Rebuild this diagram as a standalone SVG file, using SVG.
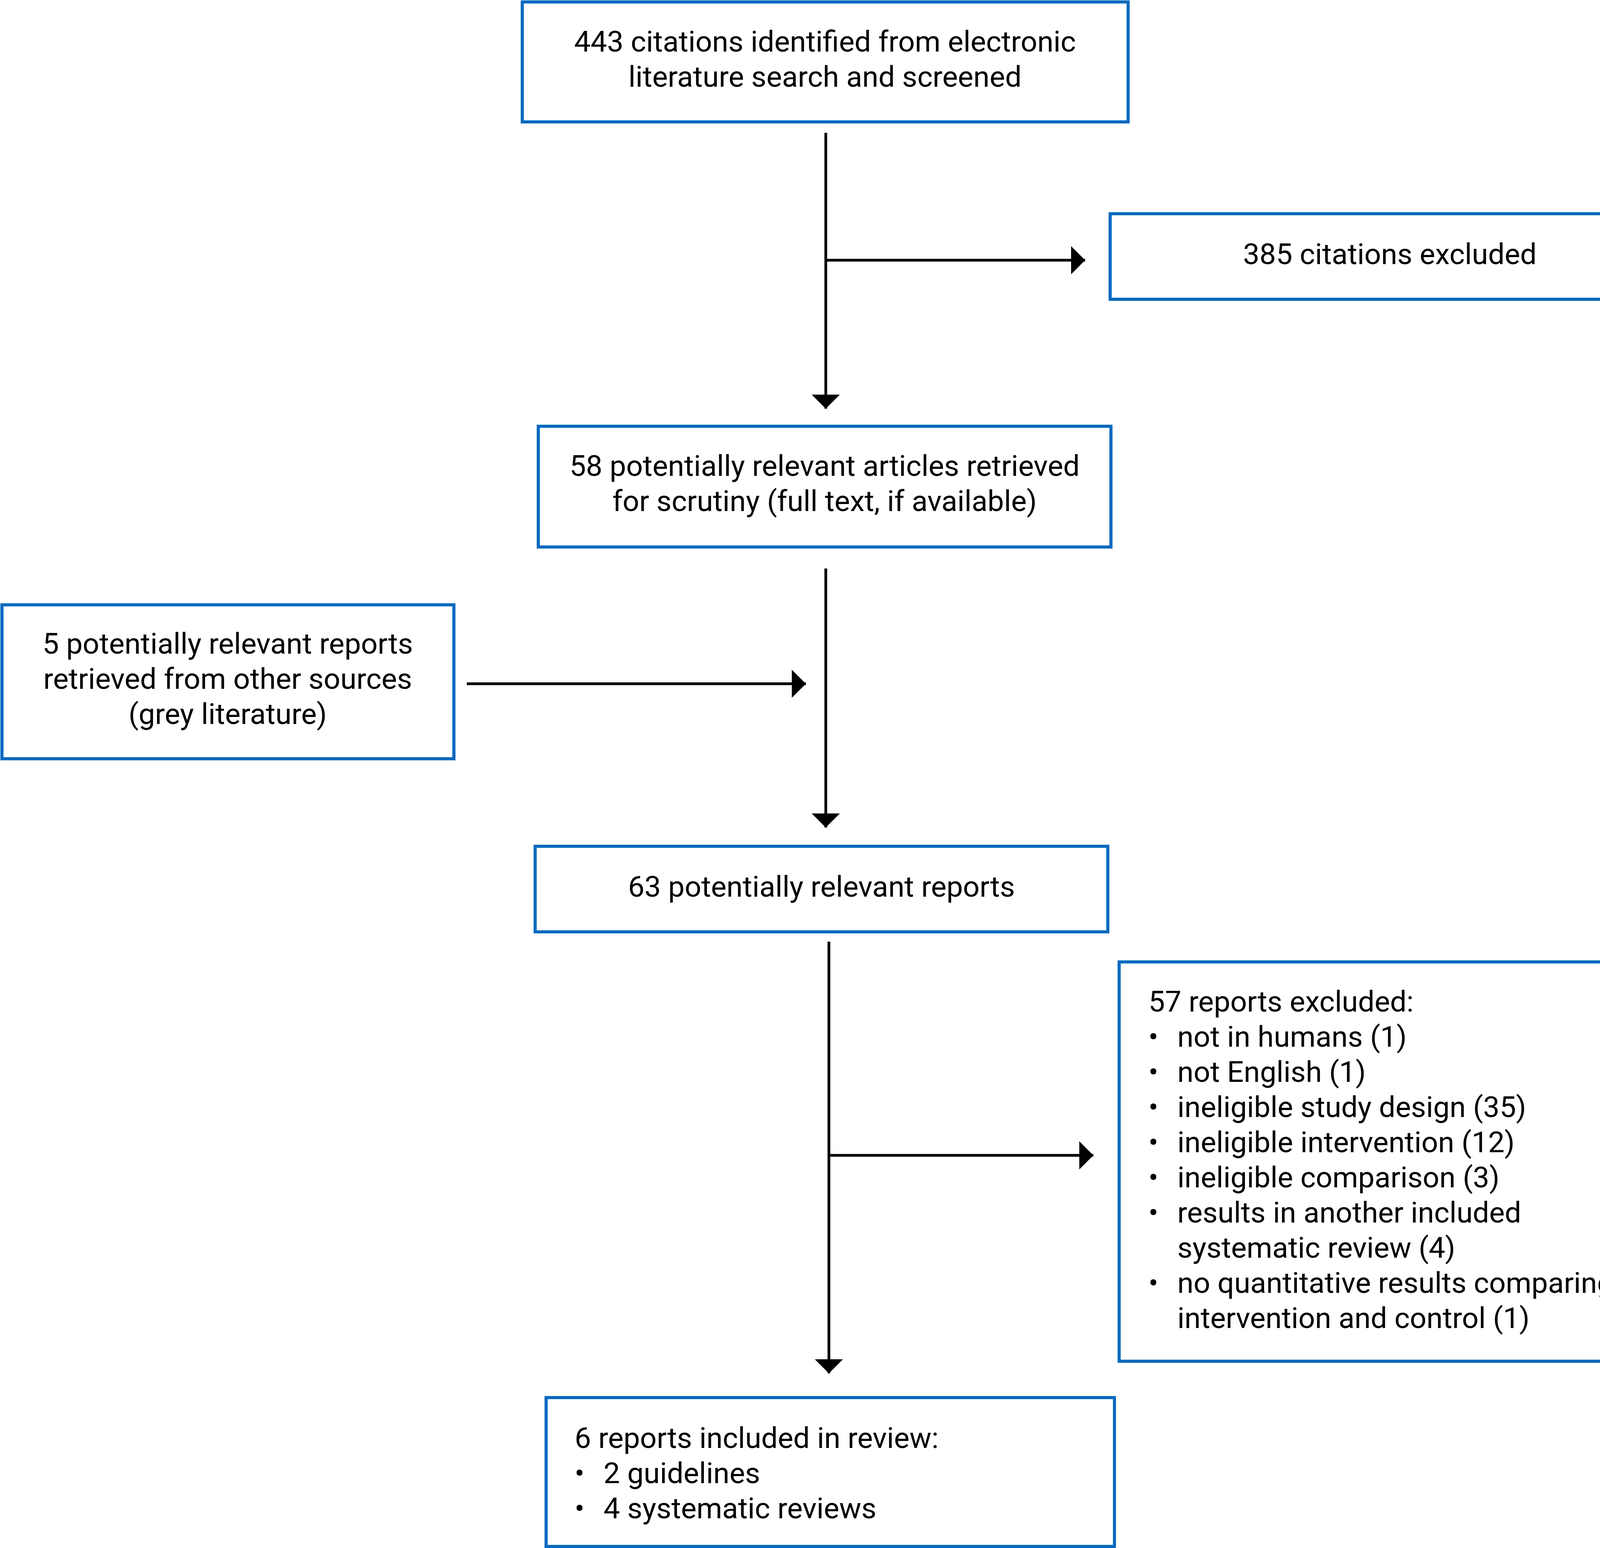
<svg xmlns="http://www.w3.org/2000/svg" width="4289" height="3962" viewBox="0 0 4289 3962">
<style>
.box{fill:#fff;stroke:#0a6abf;stroke-width:8}
text{font-family:Roboto,"Liberation Sans",sans-serif;font-size:75px;fill:#000}
.c{text-anchor:middle}
.ln{stroke:#000;stroke-width:7;fill:none}
</style>
<defs>
<marker id="ah" markerUnits="userSpaceOnUse" markerWidth="40" markerHeight="76" refX="36" refY="38" orient="auto">
<path d="M0,2 L36,38 L0,74 z" fill="#000"/>
</marker>
</defs>
<rect width="4289" height="3962" fill="#fff"/>
<g id="connectors">
<line class="ln" x1="2114" y1="340" x2="2114" y2="1046" marker-end="url(#ah)"/>
<line class="ln" x1="2114" y1="666" x2="2778" y2="666" marker-end="url(#ah)"/>
<line class="ln" x1="2114" y1="1455" x2="2114" y2="2118" marker-end="url(#ah)"/>
<line class="ln" x1="1195" y1="1750" x2="2063" y2="1750" marker-end="url(#ah)"/>
<line class="ln" x1="2122" y1="2410" x2="2122" y2="3515" marker-end="url(#ah)"/>
<line class="ln" x1="2122" y1="2957" x2="2799" y2="2957" marker-end="url(#ah)"/>
</g>
<g id="n1"><rect class="box" x="1337" y="5" width="1551" height="307"/>
<text class="c" x="2112" y="132">443 citations identified from electronic</text>
<text class="c" x="2112" y="222">literature search and screened</text></g>
<g id="n2"><rect class="box" x="2842" y="547" width="1433" height="219"/>
<text class="c" x="3558" y="676">385 citations excluded</text></g>
<g id="n3"><rect class="box" x="1378" y="1091" width="1466" height="309"/>
<text class="c" x="2111" y="1218">58 potentially relevant articles retrieved</text>
<text class="c" x="2111" y="1308">for scrutiny (full text, if available)</text></g>
<g id="n4"><rect class="box" x="5" y="1548" width="1157" height="394"/>
<text class="c" x="583" y="1673">5 potentially relevant reports</text>
<text class="c" x="583" y="1763">retrieved from other sources</text>
<text class="c" x="583" y="1853">(grey literature)</text></g>
<g id="n5"><rect class="box" x="1370" y="2166" width="1466" height="219"/>
<text class="c" x="2103" y="2295">63 potentially relevant reports</text></g>
<g id="n6"><rect class="box" x="2865" y="2462" width="1418" height="1022"/>
<text x="2940" y="2589">57 reports excluded:</text>
<g><text x="2940" y="2679">•</text><text x="3014" y="2679">not in humans (1)</text>
<text x="2940" y="2769">•</text><text x="3014" y="2769">not English (1)</text>
<text x="2940" y="2859">•</text><text x="3014" y="2859">ineligible study design (35)</text>
<text x="2940" y="2949">•</text><text x="3014" y="2949">ineligible intervention (12)</text>
<text x="2940" y="3039">•</text><text x="3014" y="3039">ineligible comparison (3)</text>
<text x="2940" y="3129">•</text><text x="3014" y="3129">results in another included</text>
<text x="3014" y="3219">systematic review (4)</text>
<text x="2940" y="3309">•</text><text x="3014" y="3309">no quantitative results comparing</text>
<text x="3014" y="3399">intervention and control (1)</text></g></g>
<g id="n7"><rect class="box" x="1398" y="3577" width="1455" height="381"/>
<text x="1471" y="3706">6 reports included in review:</text>
<text x="1471" y="3796">•</text><text x="1545" y="3796">2 guidelines</text>
<text x="1471" y="3886">•</text><text x="1545" y="3886">4 systematic reviews</text></g>
</svg>
